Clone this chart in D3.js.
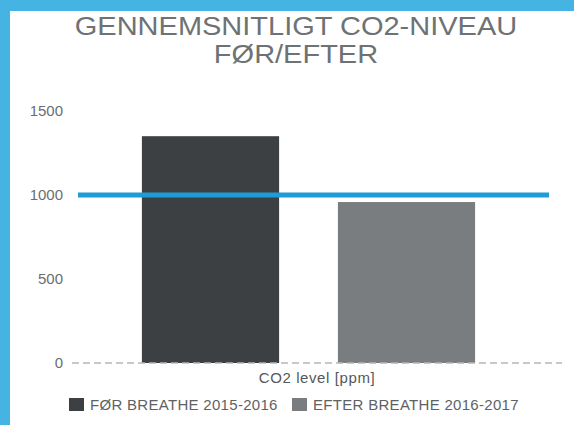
<!DOCTYPE html>
<html>
<head>
<meta charset="utf-8">
<script src="https://cdn.jsdelivr.net/npm/d3@7"></script>
<style>
  html, body { margin: 0; padding: 0; background: #fff; }
  svg { display: block; font-family: "Liberation Sans", Arial, sans-serif; }
</style>
</head>
<body>
<div id="chart"></div>
<script>
// data
const categories = ['FØR BREATHE 2015-2016', 'EFTER BREATHE 2016-2017']
const values = [1350, 958]
const barColors = ['#3d4043', '#7a7d7f']
const yTicks = [0, 500, 1000, 1500]
const threshold = 1000
const titleLines = ['GENNEMSNITLIGT CO2-NIVEAU', 'FØR/EFTER']
const axisLabel = 'CO2 level [ppm]'

const width = 574, height = 425

const svg = d3.select('#chart').append('svg')
  .attr('width', width)
  .attr('height', height)

svg.append('rect').attr('width', width).attr('height', height).attr('fill', '#45b4e2')
svg.append('rect').attr('x', 10).attr('y', 11).attr('width', width - 10).attr('height', height - 11).attr('fill', '#fff')

const x = d3.scaleBand()
  .domain(categories)
  .range([112.5, 504.5])
  .paddingInner(0.3)
  .paddingOuter(0.15)

const y = d3.scaleLinear()
  .domain([0, 1500])
  .range([363, 111])

// title (the original glyphs are stretched sideways)
svg.append('g')
  .attr('transform', 'translate(296,0) scale(1.16,1)')
  .selectAll('text')
  .data(titleLines)
  .enter().append('text')
    .attr('x', 0)
    .attr('y', (d, i) => 35 + i * 28)
    .attr('text-anchor', 'middle')
    .attr('font-size', 25)
    .attr('fill', '#6e7275')
    .text(d => d)

// y axis labels
const yAxis = svg.append('g')
  .attr('transform', 'translate(63,0)')
  .call(d3.axisLeft(y).tickValues(yTicks).tickSize(0).tickPadding(0).tickFormat(d3.format('d')))
yAxis.select('.domain').remove()
yAxis.selectAll('text')
  .attr('font-size', 15)
  .attr('font-family', '"Liberation Sans", Arial, sans-serif')
  .attr('fill', '#6b6e71')

// bars
svg.append('g').selectAll('rect')
  .data(values)
  .enter().append('rect')
    .attr('x', (d, i) => x(categories[i]))
    .attr('y', d => y(d))
    .attr('width', x.bandwidth())
    .attr('height', d => y(0) - y(d))
    .attr('fill', (d, i) => barColors[i])

// baseline
svg.append('line')
  .attr('x1', 72).attr('x2', 562)
  .attr('y1', y(0)).attr('y2', y(0))
  .attr('stroke', '#b4b6b8')
  .attr('stroke-width', 1.5)
  .attr('stroke-dasharray', '7,4')

// threshold line
svg.append('line')
  .attr('x1', 78).attr('x2', 549)
  .attr('y1', y(threshold)).attr('y2', y(threshold))
  .attr('stroke', '#1e9cd8')
  .attr('stroke-width', 5)

svg.append('text')
  .attr('x', 317)
  .attr('y', 383)
  .attr('text-anchor', 'middle')
  .attr('font-size', 15)
  .attr('letter-spacing', 0.6)
  .attr('fill', '#55585b')
  .text(axisLabel)

// legend
const legendX = [69, 292]
const legend = svg.append('g').selectAll('g')
  .data(categories)
  .enter().append('g')
    .attr('transform', (d, i) => `translate(${legendX[i]},398)`)
legend.append('rect')
  .attr('width', 15).attr('height', 13)
  .attr('fill', (d, i) => barColors[i])
legend.append('text')
  .attr('x', 21).attr('y', 12)
  .attr('font-size', 15)
  .attr('letter-spacing', 0.3)
  .attr('fill', '#5f6265')
  .text(d => d)
</script>
</body>
</html>
